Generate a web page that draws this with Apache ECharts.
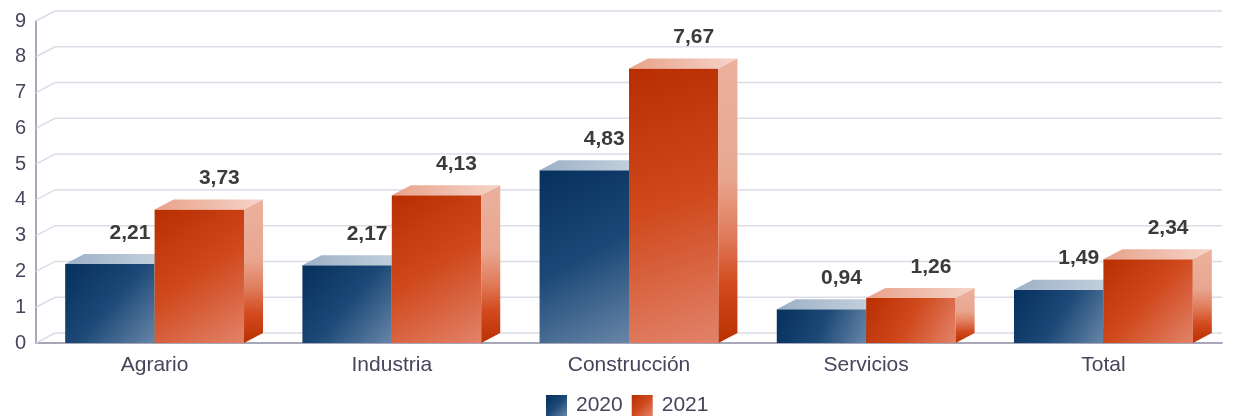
<!DOCTYPE html>
<html>
<head>
<meta charset="utf-8">
<script src="https://cdn.jsdelivr.net/npm/echarts@6/dist/echarts.min.js"></script>
<style>
  html, body { margin: 0; padding: 0; background: #fff; }
  #chart { width: 1241px; height: 419px; }
</style>
</head>
<body>
<div id="chart"></div>
<script>
const categories = ['Agrario', 'Industria', 'Construcción', 'Servicios', 'Total']
const values2020 = [2.21, 2.17, 4.83, 0.94, 1.49]
const values2021 = [3.73, 4.13, 7.67, 1.26, 2.34]
const yTicks = [0, 1, 2, 3, 4, 5, 6, 7, 8, 9]

// 3d depth offset
const DX = 19
const DY = 10
const BAR_RATIO = 0.377
const FONT = 'Liberation Sans, Arial, sans-serif'

const lg = (x, y, x2, y2, stops) =>
  new echarts.graphic.LinearGradient(x, y, x2, y2, stops.map((c, i) => ({ offset: i / (stops.length - 1), color: c })))

const palette = {
  2020: {
    front: () => lg(0, 0, 1, 1, ['#06305e', '#1b4876', '#6886a8']),
    top: () => lg(0, 0, 1, 0, ['#9cb0c6', '#c9d5e1']),
    side: () => lg(0, 0, 0, 1, ['#b9c7d6', '#5d7ca0', '#0a3160'])
  },
  2021: {
    front: () => lg(0, 0, 1, 1, ['#b82e00', '#d04a1e', '#e2836a']),
    top: () => lg(0, 0, 1, 0, ['#e8a28a', '#f5d4c9']),
    side: () => new echarts.graphic.LinearGradient(0, 0, 0, 1, [
      { offset: 0, color: '#ebb19d' },
      { offset: 0.42, color: '#e8a690' },
      { offset: 0.62, color: '#e07c5b' },
      { offset: 0.8, color: '#d2491d' },
      { offset: 1, color: '#b93000' }
    ])
  }
}

const fmt = v => v.toFixed(2).replace('.', ',')

function barRenderer(idx, pal) {
  return function (params, api) {
    const cat = api.value(0)
    const val = api.value(1)
    const base = api.coord([cat, 0])
    const top = api.coord([cat, val])
    const w = api.size([1, 0])[0] * BAR_RATIO
    const x0 = idx === 0 ? base[0] - w : base[0]
    const x1 = x0 + w
    const y0 = top[1]
    const y1 = base[1]
    return {
      type: 'group',
      children: [
        { type: 'rect', shape: { x: x0, y: y0, width: w, height: y1 - y0 }, style: { fill: pal.front() } },
        { type: 'polygon', shape: { points: [[x0, y0], [x0 + DX, y0 - DY], [x1 + DX, y0 - DY], [x1, y0]] }, style: { fill: pal.top() } },
        { type: 'polygon', shape: { points: [[x1, y0], [x1 + DX, y0 - DY], [x1 + DX, y1 - DY], [x1, y1]] }, style: { fill: pal.side() } },
        {
          type: 'text', z2: 100,
          style: {
            text: fmt(val), x: x0 + w / 2 + 20, y: y0 - 31,
            align: 'center', verticalAlign: 'middle',
            font: 'bold 21px ' + FONT, fill: '#3b3b3b'
          }
        }
      ]
    }
  }
}

function frameRenderer(params, api) {
  const cs = params.coordSys
  const y = api.coord([0, api.value(0)])[1]
  return {
    type: 'polyline',
    shape: { points: [[cs.x, y], [cs.x + DX, y - DY], [cs.x + cs.width, y - DY]] },
    style: { stroke: '#dcdce6', lineWidth: 1.5, fill: null }
  }
}

const chart = echarts.init(document.getElementById('chart'))
chart.setOption({
  animation: false,
  grid: { left: 36, right: 19, top: 21, bottom: 76 },
  legend: {
    bottom: 3, left: 546, padding: 0,
    icon: 'rect', itemWidth: 21, itemHeight: 21, itemGap: 9,
    textStyle: { fontSize: 21, color: '#45455c', fontFamily: FONT, padding: [0, 0, 0, 4] },
    data: ['2020', '2021']
  },
  xAxis: {
    type: 'category',
    data: categories,
    axisLine: { show: true, lineStyle: { color: '#8a8aa2', width: 1.5 } },
    axisTick: { show: false },
    axisLabel: { fontSize: 21, color: '#45455c', fontFamily: FONT, margin: 12 },
    splitLine: { show: false }
  },
  yAxis: {
    type: 'value',
    min: 0, max: 9, interval: 1,
    axisLine: { show: true, lineStyle: { color: '#8a8aa2', width: 1.5 } },
    axisTick: { show: false },
    axisLabel: { fontSize: 20, color: '#45455c', fontFamily: FONT, margin: 10 },
    splitLine: { show: false }
  },
  series: [
    {
      name: 'frame', type: 'custom', z: 1, silent: true,
      renderItem: frameRenderer,
      data: yTicks.map(v => [v]),
      encode: { y: 0 }
    },
    {
      name: '2020', type: 'custom', z: 3,
      itemStyle: { color: lg(0, 0, 1, 1, ['#06305e', '#1b4876', '#6886a8']) },
      renderItem: barRenderer(0, palette[2020]),
      data: values2020.map((v, i) => [i, v]),
      encode: { x: 0, y: 1 }
    },
    {
      name: '2021', type: 'custom', z: 4,
      itemStyle: { color: lg(0, 0, 1, 1, ['#b82e00', '#d04a1e', '#e2836a']) },
      renderItem: barRenderer(1, palette[2021]),
      data: values2021.map((v, i) => [i, v]),
      encode: { x: 0, y: 1 }
    }
  ]
})
</script>
</body>
</html>
